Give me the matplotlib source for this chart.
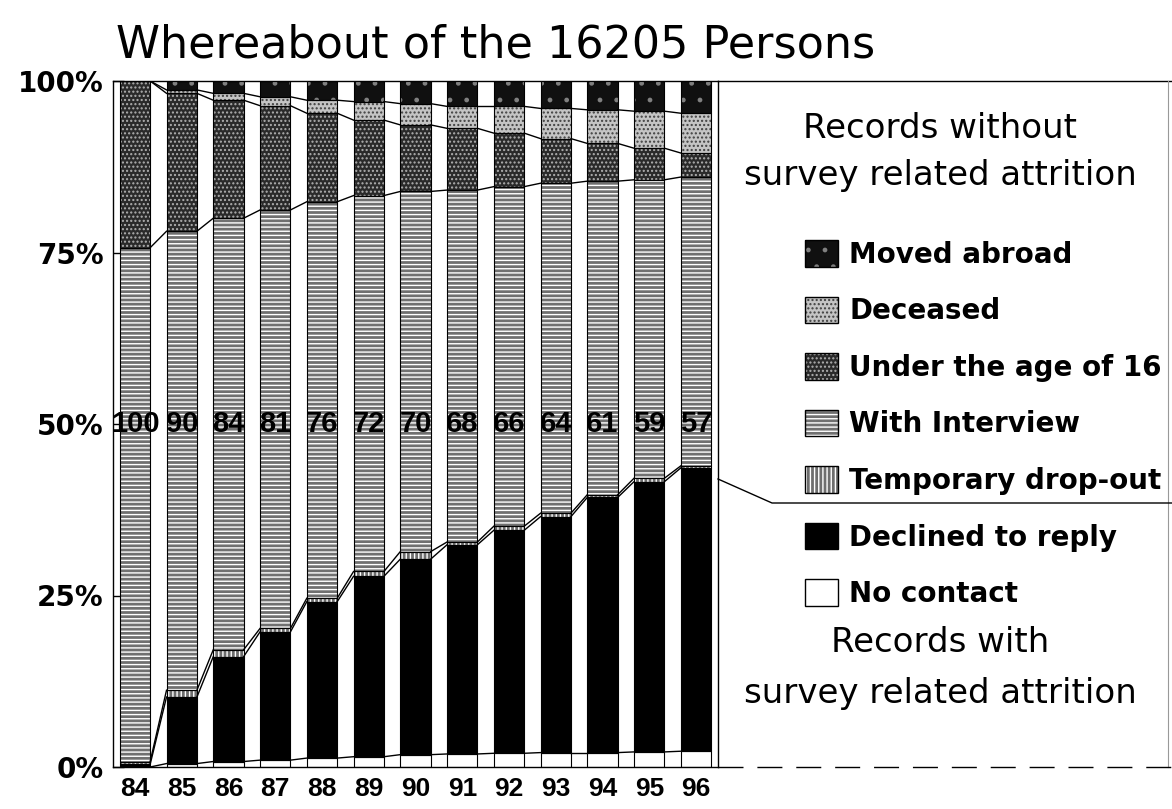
import numpy as np
import matplotlib
matplotlib.use("Agg")
import matplotlib.pyplot as plt
from matplotlib import font_manager
from matplotlib.lines import Line2D
from matplotlib.patches import Patch
from matplotlib.legend_handler import HandlerTuple

plt.rcParams["font.family"] = ["DejaVu Sans"]
plt.rcParams["hatch.linewidth"] = 1.0

# ============================
# Data (percent of the 16205 persons)
# ============================
YEARS = ["84", "85", "86", "87", "88", "89", "90", "91", "92", "93", "94", "95", "96"]
NO_CONTACT   = [0.0, 0.5, 0.8, 1.0, 1.3, 1.5, 1.8, 1.9, 2.0, 2.1, 2.1, 2.2, 2.3]
DECLINED     = [0.4, 9.7, 15.3, 18.7, 22.8, 26.3, 28.5, 30.5, 32.5, 34.4, 37.2, 39.4, 41.3]
TEMP_DROPOUT = [0.4, 1.0, 1.0, 0.5, 0.5, 0.7, 1.1, 0.4, 0.6, 0.5, 0.4, 0.5, 0.3]
INTERVIEW    = [74.9, 66.9, 62.9, 61.0, 57.8, 54.8, 52.5, 51.3, 49.5, 48.1, 45.7, 43.5, 42.1]
UNDER_16     = [24.3, 20.1, 17.2, 15.2, 12.9, 11.0, 9.7, 9.0, 7.8, 6.5, 5.5, 4.6, 3.5]
DECEASED     = [0.0, 0.5, 1.0, 1.3, 1.9, 2.7, 3.1, 3.2, 3.9, 4.4, 4.9, 5.4, 5.8]
MOVED_ABROAD = [0.0, 1.3, 1.8, 2.3, 2.8, 3.0, 3.3, 3.7, 3.7, 4.0, 4.2, 4.4, 4.7]
INTERVIEW_INDEX = [100, 90, 84, 81, 76, 72, 70, 68, 66, 64, 61, 59, 57]

SEGMENT_LABELS = ["No contact", "Declined to reply", "Temporary drop-out",
                  "With Interview", "Under the age of 16", "Deceased", "Moved abroad"]

TITLE = "Whereabout of the 16205 Persons"

# face colour, hatch, hatch colour
STYLES = [
    ("white", None, None),
    ("black", None, None),
    ("#6e6e6e", "||||", "white"),
    ("#707070", "----", "white"),
    ("#2a2a2a", "....", "#b0b0b0"),
    ("#c4c4c4", "....", "#404040"),
    ("#101010", ".", "#808080"),
]

W, H = 1172, 809

names = {f.name for f in font_manager.fontManager.ttflist}
NUM_FONT = "Liberation Sans" if "Liberation Sans" in names else "DejaVu Sans"
NUM_SIZE = 21 if NUM_FONT == "Liberation Sans" else 15
XLAB_SIZE = 19 if NUM_FONT == "Liberation Sans" else 15


def main():
    segments = [NO_CONTACT, DECLINED, TEMP_DROPOUT, INTERVIEW, UNDER_16, DECEASED, MOVED_ABROAD]
    x = np.arange(len(YEARS))
    width = 0.65

    fig = plt.figure(figsize=(W / 100, H / 100), dpi=100)
    ax = fig.add_axes([113 / W, 1 - 767 / H, (718 - 113) / W, (767 - 81) / H])

    bottom = np.zeros(len(YEARS))
    handles = []
    tops = []
    for vals, (face, hatch, hcol), lab in zip(segments, STYLES, SEGMENT_LABELS):
        vals = np.asarray(vals, dtype=float)
        ax.bar(x, vals, width, bottom=bottom, color=face, linewidth=0, zorder=2)
        parts = []
        if hatch:
            ax.bar(x, vals, width, bottom=bottom, facecolor="none", edgecolor=hcol,
                   hatch=hatch, linewidth=0, zorder=3)
            parts.append(Patch(facecolor=face, edgecolor=hcol, hatch=hatch, linewidth=0))
        else:
            parts.append(Patch(facecolor=face, linewidth=0))
        ax.bar(x, vals, width, bottom=bottom, facecolor="none", edgecolor="black",
               linewidth=0.8, zorder=4)
        parts.append(Patch(facecolor="none", edgecolor="black", linewidth=1.0))
        handles.append((tuple(parts), lab))
        bottom = bottom + vals
        tops.append(bottom.copy())

    # series lines between bars
    for cum in tops[:-1]:
        for i in range(len(x) - 1):
            ax.plot([x[i] + width / 2, x[i + 1] - width / 2], [cum[i], cum[i + 1]],
                    color="black", linewidth=1.0, zorder=5)

    for xi, v in zip(x, INTERVIEW_INDEX):
        ax.text(xi, 50, str(v), ha="center", va="center", fontsize=NUM_SIZE,
                fontweight="bold", family=NUM_FONT, zorder=6)

    ax.set_xlim(-0.47, len(x) - 1 + 0.47)
    ax.set_ylim(0, 100)
    ax.set_yticks([0, 25, 50, 75, 100])
    ax.set_yticklabels(["0%", "25%", "50%", "75%", "100%"], fontsize=20, fontweight="bold")
    ax.tick_params(axis="y", direction="in", length=8, width=1, pad=7)
    ax.set_xticks(x)
    ax.set_xticklabels(YEARS, fontsize=XLAB_SIZE, fontweight="bold", family=NUM_FONT)
    ax.tick_params(axis="x", length=0, pad=7)
    for s in ax.spines.values():
        s.set_linewidth(1.0)

    fig.text(116 / W, 1 - 58 / H, TITLE, fontsize=32, ha="left", va="baseline")

    # frame around the legend area
    fx = lambda px: px / W
    fy = lambda py: 1 - py / H
    fig.add_artist(Line2D([fx(718), fx(1172)], [fy(81), fy(81)], color="black", lw=1.0,
                          transform=fig.transFigure))
    fig.add_artist(Line2D([fx(1168), fx(1168)], [fy(81), fy(767)], color="#999999", lw=0.8,
                          transform=fig.transFigure))
    fig.add_artist(Line2D([fx(718), fx(1172)], [fy(767), fy(767)], color="black", lw=1.0,
                          linestyle=(0, (18, 10)), transform=fig.transFigure))
    fig.add_artist(Line2D([fx(718), fx(772), fx(1172)], [fy(479), fy(503), fy(503)],
                          color="black", lw=1.0, transform=fig.transFigure))

    fig.text(fx(940), fy(128), "Records without", fontsize=24.5, ha="center", va="center")
    fig.text(fx(940), fy(175), "survey related attrition", fontsize=24.5, ha="center", va="center")
    fig.text(fx(940), fy(643), "Records with", fontsize=24.5, ha="center", va="center")
    fig.text(fx(940), fy(693), "survey related attrition", fontsize=24.5, ha="center", va="center")

    hs = [h for h, _ in handles][::-1]
    ls = [l for _, l in handles][::-1]
    fig.legend(hs, ls, handler_map={tuple: HandlerTuple(ndivide=1, pad=0)},
               loc="upper left", bbox_to_anchor=(fx(805), fy(240)), frameon=False,
               borderpad=0, borderaxespad=0, handlelength=1.2, handleheight=1.1,
               handletextpad=0.4, labelspacing=1.0,
               prop={"size": 20, "weight": "bold"})

    fig.savefig("out.png", dpi=100, facecolor="white")
    plt.close(fig)


if __name__ == "__main__":
    main()
